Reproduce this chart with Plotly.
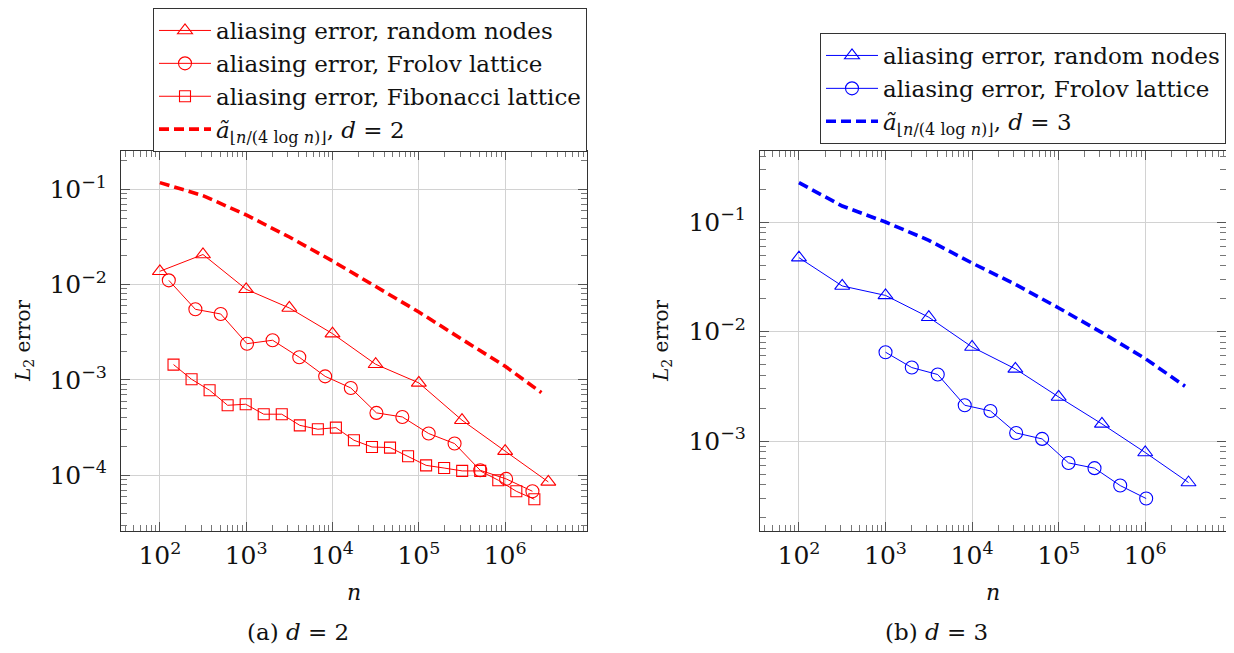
import plotly.graph_objects as go

W, H = 1234, 653
OFF = 8  # page offset of the figure inside the browser window

# ---------------- data: d = 2 ----------------
n_rand = [100, 316, 1000, 3162, 10000, 31623, 100000, 316228, 1000000, 3162278]
err_rand_d2 = [0.0138, 0.0207, 0.00893, 0.00569, 0.00306, 0.00146, 0.000931, 0.000378, 0.000179, 0.0000851]

n_frolov_d2 = [127, 258, 507, 1023, 2023, 4121, 8222, 16293, 32280, 64417, 130017, 259418, 514040, 1025640, 2070141]
err_frolov_d2 = [0.01109, 0.00551, 0.00492, 0.00240, 0.00261, 0.00173, 0.00109, 0.000824, 0.000451,
                 0.000409, 0.000274, 0.000215, 0.0001127, 0.0000916, 0.0000679]

n_fib = [144, 233, 377, 610, 987, 1597, 2584, 4181, 6765, 10946, 17711, 28657, 46368, 75025,
         121393, 196418, 317811, 514229, 832040, 1346269, 2178309]
err_fib = [0.001449, 0.001016, 0.000780, 0.000542, 0.000556, 0.000437, 0.000437, 0.000334, 0.000304,
           0.000316, 0.000233, 0.000198, 0.000195, 0.000158, 0.000127, 0.000119, 0.000111, 0.000111,
           0.0000887, 0.0000679, 0.0000560]

n_bound_d2 = [100, 316, 1000, 3162, 10000, 31623, 100000, 316228, 1000000, 2630000]
bound_d2 = [0.1175, 0.0859, 0.0538, 0.0316, 0.0177, 0.00962, 0.00516, 0.00267, 0.00139, 0.000736]

# ---------------- data: d = 3 ----------------
err_rand_d3 = [0.0473, 0.0261, 0.0214, 0.01352, 0.00724, 0.00457, 0.002535, 0.001439, 0.000789, 0.000420]

n_frolov_d3 = [1000, 2011, 4010, 8222, 16293, 32280, 64417, 130017, 259418, 514040, 1025640]
err_frolov_d3 = [0.00649, 0.00470, 0.00406, 0.00213, 0.00189, 0.00119, 0.00105, 0.000634, 0.000568,
                 0.000394, 0.000300]

n_bound_d3 = [100, 316, 1000, 3162, 10000, 31623, 100000, 316228, 1000000, 2880000]
bound_d3 = [0.2286, 0.140, 0.100, 0.0681, 0.0422, 0.0270, 0.01644, 0.00980, 0.00568, 0.003177]

# ---------------- labels ----------------
lab_rand = "aliasing error, random nodes"
lab_frolov = "aliasing error, Frolov lattice"
lab_fib = "aliasing error, Fibonacci lattice"
lab_bound_d2 = "<i>ã</i><sub>⌊<i>n</i>/(4 log <i>n</i>)⌋</sub>, <i>d</i> = 2"
lab_bound_d3 = "<i>ã</i><sub>⌊<i>n</i>/(4 log <i>n</i>)⌋</sub>, <i>d</i> = 3"

RED = "#ff0000"
BLUE = "#0000ff"
FONT = "DejaVu Serif"

fig = go.Figure()


def line_trace(x, y, name, color, symbol, size, xa, ya, legend):
    return go.Scatter(x=x, y=y, name=name, mode="lines+markers", xaxis=xa, yaxis=ya, legend=legend,
                      line=dict(color=color, width=1),
                      marker=dict(symbol=symbol, size=size, color=color,
                                  line=dict(color=color, width=1.1)))


fig.add_trace(line_trace(n_rand, err_rand_d2, lab_rand, RED, "triangle-up-open", 13, "x", "y", "legend"))
fig.add_trace(line_trace(n_frolov_d2, err_frolov_d2, lab_frolov, RED, "circle-open", 13, "x", "y", "legend"))
fig.add_trace(line_trace(n_fib, err_fib, lab_fib, RED, "square-open", 11, "x", "y", "legend"))
fig.add_trace(go.Scatter(x=n_bound_d2, y=bound_d2, name=lab_bound_d2, mode="lines", xaxis="x", yaxis="y",
                         legend="legend", line=dict(color=RED, width=3.6, dash="10px,5px")))

fig.add_trace(line_trace(n_rand, err_rand_d3, lab_rand, BLUE, "triangle-up-open", 13, "x2", "y2", "legend2"))
fig.add_trace(line_trace(n_frolov_d3, err_frolov_d3, lab_frolov, BLUE, "circle-open", 13, "x2", "y2", "legend2"))
fig.add_trace(go.Scatter(x=n_bound_d3, y=bound_d3, name=lab_bound_d3, mode="lines", xaxis="x2", yaxis="y2",
                         legend="legend2", line=dict(color=BLUE, width=3.6, dash="10px,5px")))


def px_x(p):
    return (p - OFF) / W


def px_y(p):
    return 1 - (p - OFF) / H


axis_common = dict(type="log", dtick=1, exponentformat="power", showline=True, linecolor="#333",
                   linewidth=1, mirror="allticks", ticks="inside", ticklen=9, tickcolor="#555",
                   showgrid=True, gridcolor="#d2d2d2", gridwidth=1, zeroline=False,
                   tickfont=dict(family=FONT, size=20, color="#111"),
                   minor=dict(ticks="inside", ticklen=6, tickcolor="#777", dtick="D1", showgrid=False))

top_px, bot_px = 151, 531
legend_common = dict(xanchor="right", yanchor="top", bgcolor="white", bordercolor="#333", borderwidth=1,
                     itemwidth=52, font=dict(family=FONT, size=23, color="#111"), tracegroupgap=0)
fig.update_layout(
    width=W, height=H, margin=dict(l=0, r=0, t=0, b=0),
    paper_bgcolor="white", plot_bgcolor="white",
    font=dict(family=FONT, color="#111"),
    xaxis=dict(domain=[px_x(121), px_x(587)], range=[1.55, 6.948], anchor="y",
               ticklabelstandoff=3, **axis_common),
    yaxis=dict(domain=[px_y(bot_px), px_y(top_px)], range=[-4.585, -0.598], anchor="x",
               ticklabelstandoff=9, **axis_common),
    xaxis2=dict(domain=[px_x(760), px_x(1226)], range=[1.55, 6.933], anchor="y2",
                ticklabelstandoff=3, **axis_common),
    yaxis2=dict(domain=[px_y(bot_px), px_y(top_px)], range=[-3.819, -0.352], anchor="x2",
                ticklabelstandoff=9, **axis_common),
    legend=dict(x=px_x(587), y=1.0, **legend_common),
    legend2=dict(x=px_x(1226), y=px_y(33), **legend_common),
    showlegend=True,
)

annotations = [
    dict(text="<i>n</i>", x=px_x(354), y=px_y(592), size=22),
    dict(text="<i>n</i>", x=px_x(993), y=px_y(592), size=22),
    dict(text="<i>L</i><sub>2</sub> error", x=px_x(24), y=px_y(341), textangle=-90, size=20),
    dict(text="<i>L</i><sub>2</sub> error", x=px_x(662), y=px_y(341), textangle=-90, size=20),
    dict(text="(a) <i>d</i> = 2", x=px_x(298), y=px_y(632), size=23),
    dict(text="(b) <i>d</i> = 3", x=px_x(936), y=px_y(632), size=23),
]
for a in annotations:
    s = a.pop("size")
    a.update(xref="paper", yref="paper", showarrow=False, xanchor="center", yanchor="middle",
             font=dict(family=FONT, size=s, color="#111"))
fig.update_layout(annotations=annotations)

fig.write_html("out.html")
